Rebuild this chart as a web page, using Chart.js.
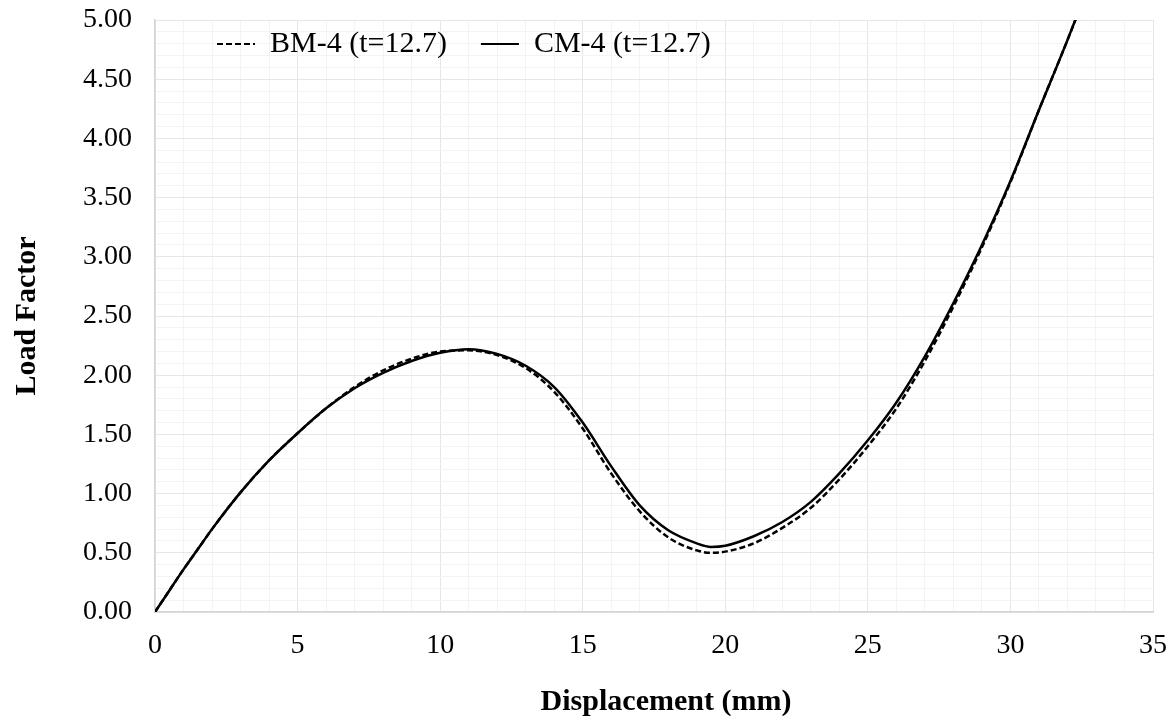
<!DOCTYPE html>
<html>
<head>
<meta charset="utf-8">
<title>Load Factor vs Displacement</title>
<script src="https://cdn.jsdelivr.net/npm/chart.js@4.4.1/dist/chart.umd.min.js"></script>
<style>
  html, body { margin: 0; padding: 0; background: #ffffff; }
  #wrap { position: relative; width: 1172px; height: 726px; }
</style>
</head>
<body>
<div id="wrap"><canvas id="chart" width="1172" height="726"></canvas></div>
<script>
// Displacement (mm) sample positions shared by both curves
const displacement = [0, 0.5, 1, 1.5, 2, 3, 4, 5, 6, 7, 8, 9, 10, 11, 12, 13, 14, 15, 16, 17, 18, 19, 19.5, 20, 21, 22, 23, 24, 25, 26, 27, 28, 29, 30, 31, 32, 33];

// Load factor, BM-4 (t=12.7)
const loadBM4 = [0, 0.18, 0.36, 0.53, 0.70, 1.01, 1.28, 1.51, 1.72, 1.90, 2.04, 2.14, 2.20, 2.21, 2.17, 2.06, 1.86, 1.55, 1.17, 0.85, 0.63, 0.52, 0.50, 0.51, 0.58, 0.71, 0.88, 1.12, 1.40, 1.72, 2.12, 2.58, 3.08, 3.63, 4.24, 4.83, 5.45];

// Load factor, CM-4 (t=12.7)
const loadCM4 = [0, 0.18, 0.36, 0.53, 0.70, 1.01, 1.28, 1.51, 1.72, 1.89, 2.02, 2.12, 2.19, 2.22, 2.18, 2.08, 1.90, 1.60, 1.23, 0.90, 0.69, 0.58, 0.55, 0.56, 0.64, 0.76, 0.93, 1.17, 1.45, 1.77, 2.16, 2.61, 3.10, 3.64, 4.24, 4.83, 5.45];

const seriesLabels = ['BM-4 (t=12.7)', 'CM-4 (t=12.7)'];
const xTitle = 'Displacement (mm)';
const yTitle = 'Load Factor';

const SERIF = '"Liberation Serif", "Times New Roman", serif';
const MAJOR_GRID = '#e6e6e6';
const MINOR_GRID = '#f3f3f3';
const AXIS_LINE = '#d4d4d4';

const toPoints = (xs, ys) => xs.map((x, i) => ({ x: x, y: ys[i] }));
const isMultiple = (v, step) => Math.abs(v / step - Math.round(v / step)) < 1e-6;

// Keeps the legend from taking layout space and places it inside the plot area;
// also nudges the x-axis title slightly to the right of the plot centre
const layoutTweaks = {
  id: 'layoutTweaks',
  afterInit(chart) {
    const legend = chart.legend;
    const fit = legend.fit;
    legend.fit = function () {
      fit.call(this);
      this._rowHeight = this.height;
      this.height = 0;
    };
  },
  afterLayout(chart) {
    const legend = chart.legend;
    const area = chart.chartArea;
    legend.left = area.left + 28;
    legend.right = area.right;
    legend.width = legend.right - legend.left;
    legend.top = area.top - 25;
    legend.height = legend._rowHeight;
    legend.bottom = legend.top + legend.height;

    const xScale = chart.scales.x;
    if (xScale && !xScale._titleShifted) {
      const drawTitle = xScale.drawTitle;
      xScale.drawTitle = function () {
        this.ctx.save();
        this.ctx.translate(12, 0);
        drawTitle.call(this);
        this.ctx.restore();
      };
      xScale._titleShifted = true;
    }
  }
};

// Tick labels should not push the plot area inwards
const noEdgePadding = (scale) => {
  scale.paddingLeft = 0;
  scale.paddingRight = 0;
  scale.paddingTop = 0;
  scale.paddingBottom = 0;
};

new Chart(document.getElementById('chart'), {
  type: 'line',
  data: {
    datasets: [
      {
        label: seriesLabels[0],
        data: toPoints(displacement, loadBM4),
        borderColor: '#000000',
        backgroundColor: '#000000',
        borderWidth: 2.5,
        borderDash: [6, 3],
        pointRadius: 0,
        cubicInterpolationMode: 'monotone',
        fill: false
      },
      {
        label: seriesLabels[1],
        data: toPoints(displacement, loadCM4),
        borderColor: '#000000',
        backgroundColor: '#000000',
        borderWidth: 2.5,
        pointRadius: 0,
        cubicInterpolationMode: 'monotone',
        fill: false
      }
    ]
  },
  options: {
    responsive: false,
    animation: false,
    events: [],
    layout: { padding: { top: 20, right: 19, left: 0, bottom: 0 } },
    plugins: {
      tooltip: { enabled: false },
      legend: {
        position: 'top',
        align: 'start',
        fullSize: false,
        labels: {
          usePointStyle: true,
          pointStyle: 'line',
          pointStyleWidth: 38,
          padding: 34,
          color: '#000000',
          font: { family: SERIF, size: 30 },
          generateLabels(chart) {
            const items = Chart.defaults.plugins.legend.labels.generateLabels(chart);
            items.forEach((item) => {
              const ds = chart.data.datasets[item.datasetIndex];
              item.lineDash = ds.borderDash || [];
              item.lineWidth = 2;
              item.strokeStyle = ds.borderColor;
              item.pointStyle = 'line';
            });
            return items;
          }
        }
      }
    },
    scales: {
      x: {
        type: 'linear',
        min: 0,
        max: 35,
        afterFit(scale) { scale.height = 114; noEdgePadding(scale); },
        border: { display: true, color: AXIS_LINE, width: 1.5 },
        grid: {
          drawTicks: false,
          color: (ctx) => isMultiple(ctx.tick.value, 5) ? MAJOR_GRID : MINOR_GRID,
          lineWidth: 1
        },
        ticks: {
          stepSize: 1,
          autoSkip: false,
          maxRotation: 0,
          padding: 17,
          color: '#000000',
          font: { family: SERIF, size: 28 },
          callback: (v) => isMultiple(v, 5) ? String(Math.round(v)) : ''
        },
        title: {
          display: true,
          text: xTitle,
          color: '#000000',
          font: { family: SERIF, size: 30, weight: 'bold' },
          padding: { top: 0, bottom: 6 }
        }
      },
      y: {
        type: 'linear',
        min: 0,
        max: 5,
        afterFit(scale) { scale.width = 155; noEdgePadding(scale); },
        border: { display: true, color: AXIS_LINE, width: 1.5 },
        grid: {
          drawTicks: false,
          color: (ctx) => isMultiple(ctx.tick.value, 0.5) ? MAJOR_GRID : MINOR_GRID,
          lineWidth: 1
        },
        ticks: {
          stepSize: 0.1,
          autoSkip: false,
          padding: 23,
          color: '#000000',
          font: { family: SERIF, size: 28 },
          callback: (v) => isMultiple(v, 0.5) ? v.toFixed(2) : ''
        },
        title: {
          display: true,
          text: yTitle,
          color: '#000000',
          font: { family: SERIF, size: 30, weight: 'bold' },
          padding: { top: 9, bottom: 0 }
        }
      }
    }
  },
  plugins: [layoutTweaks]
});
</script>
</body>
</html>
